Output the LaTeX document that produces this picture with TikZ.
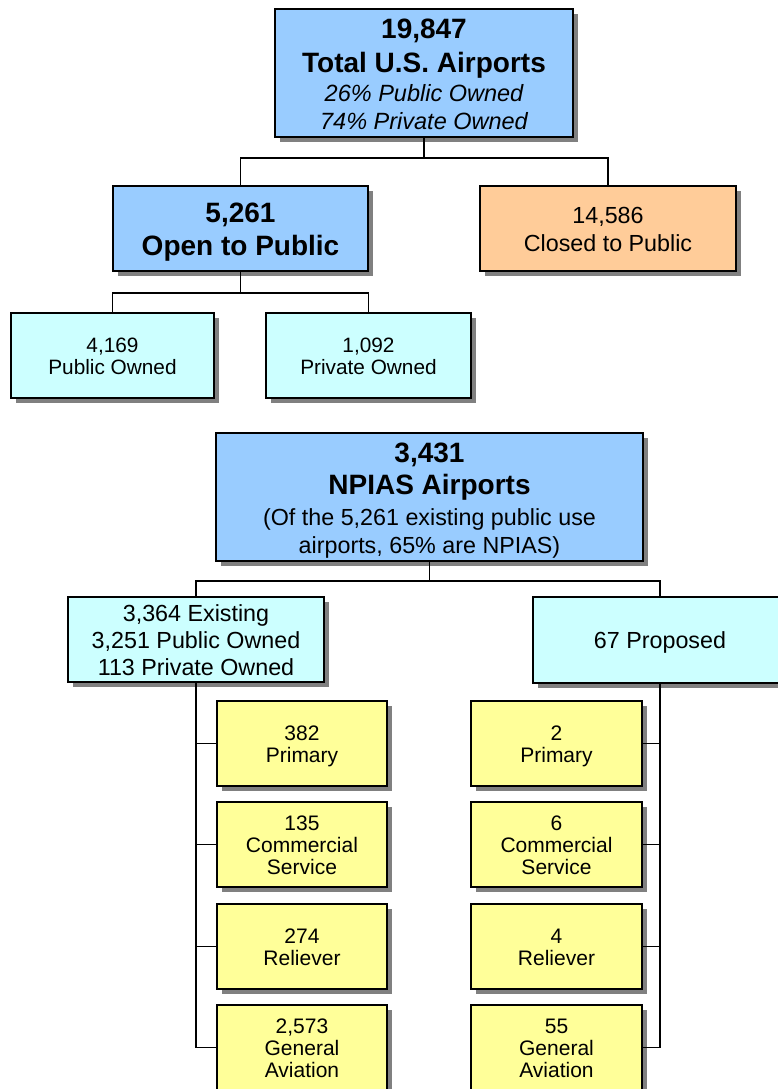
\documentclass[tikz,border=0pt]{standalone}
\usepackage{fontspec}
\setmainfont{Liberation Sans}
\usetikzlibrary{shadows}

\definecolor{boxblue}{HTML}{99CCFF}
\definecolor{boxorange}{HTML}{FFCC99}
\definecolor{boxcyan}{HTML}{CCFFFF}
\definecolor{boxyellow}{HTML}{FFFF99}
\definecolor{shadowgray}{HTML}{808080}

% struts giving each text block the font's ascent and descent
\newcommand\asc{\rule{0pt}{0.96em}}
\newcommand\dsc{\rule[-0.212em]{0pt}{0.212em}}
\newcommand\bigbold{\fontsize{28}{28}\selectfont\bfseries}

\begin{document}
\begin{tikzpicture}[x=1pt, y=-1pt,
  every node/.style={inner sep=0pt, outer sep=0pt, align=center},
  box/.style={draw=black, line width=1.3pt,
    drop shadow={shadow xshift=5pt, shadow yshift=-5pt, fill=shadowgray, opacity=1}},
  bluebox/.style={box, fill=boxblue},
  orangebox/.style={box, fill=boxorange},
  cyanbox/.style={box, fill=boxcyan},
  yellowbox/.style={box, fill=boxyellow, minimum height=85pt,
    font=\fontsize{21}{22}\selectfont},
  leftcol/.style={yellowbox, minimum width=170pt},
  rightcol/.style={yellowbox, minimum width=171pt},
  link/.style={draw=black, line width=1.4pt}
]
\useasboundingbox (0,0) rectangle (778,1089);
\clip (0,0) rectangle (778,1089);

% ---- upper tree ----
\node[bluebox, minimum width=298pt, minimum height=128pt,
      font=\fontsize{23.5}{27.6}\selectfont] (total) at (424,73)
  {{\bigbold\asc 19,847}\\[6.1pt]{\bigbold Total U.S. Airports}\\[1.4pt]%
   {\itshape 26\% Public Owned}\\{\itshape 74\% Private Owned\dsc}};

\node[bluebox, minimum width=255pt, minimum height=85pt,
      font=\fontsize{28}{33.3}\selectfont\bfseries] (open) at (240.5,228.5)
  {\asc 5,261\\Open to Public\dsc};

\node[orangebox, minimum width=256pt, minimum height=85pt,
      font=\fontsize{23.3}{27.7}\selectfont] (closed) at (608,228.5)
  {\asc 14,586\\Closed to Public\dsc};

\node[cyanbox, minimum width=203pt, minimum height=85pt,
      font=\fontsize{20.8}{21.5}\selectfont] (pubown) at (112.5,355.5)
  {\asc 4,169\\Public Owned\dsc};

\node[cyanbox, minimum width=205pt, minimum height=85pt,
      font=\fontsize{20.8}{21.5}\selectfont] (privown) at (368.5,355.5)
  {\asc 1,092\\Private Owned\dsc};

\coordinate (j1) at (424,158);
\coordinate (j2) at (240.5,293);
\draw[link] (total.south) -- (j1);
\draw[link] (open.north) |- (j1) -| (closed.north);
\draw[link] (open.south) -- (j2);
\draw[link] (pubown.north) |- (j2) -| (privown.north);

% ---- NPIAS tree ----
\node[bluebox, minimum width=427pt, minimum height=128pt,
      font=\fontsize{23.3}{27.3}\selectfont] (npias) at (429.5,497)
  {{\bigbold\asc 3,431}\\[5pt]{\bigbold NPIAS Airports}\\[3.7pt]%
   (Of the 5,261 existing public use\\airports, 65\% are NPIAS)\dsc};

\node[cyanbox, minimum width=256pt, minimum height=85pt,
      font=\fontsize{23.3}{27}\selectfont] (exist) at (196,639.5)
  {\asc 3,364 Existing\\3,251 Public Owned\\113 Private Owned\dsc};

\node[cyanbox, minimum width=254pt, minimum height=86pt,
      font=\fontsize{23.3}{27}\selectfont] (prop) at (660,640)
  {\asc 67 Proposed\dsc};

\coordinate (j3) at (429.5,581);
\draw[link] (npias.south) -- (j3);
\draw[link] (exist.north) |- (j3) -| (prop.north);

% existing airports by category
\node[leftcol] (lpri) at (302,743.5)  {\asc 382\\Primary\dsc};
\node[leftcol] (lcom) at (302,844.5)  {\asc 135\\Commercial\\Service\dsc};
\node[leftcol] (lrel) at (302,946.5)  {\asc 274\\Reliever\dsc};
\node[leftcol] (lga)  at (302,1047.5) {\asc 2,573\\General\\Aviation\dsc};

% proposed airports by category
\node[rightcol] (rpri) at (556.5,743.5)  {\asc 2\\Primary\dsc};
\node[rightcol] (rcom) at (556.5,844.5)  {\asc 6\\Commercial\\Service\dsc};
\node[rightcol] (rrel) at (556.5,946.5)  {\asc 4\\Reliever\dsc};
\node[rightcol] (rga)  at (556.5,1047.5) {\asc 55\\General\\Aviation\dsc};

\draw[link] (exist.south) |- (lga.west);
\foreach \n in {lpri,lcom,lrel}
  \draw[link] (\n.west) -- (\n.west -| exist.south);
\draw[link] (prop.south) |- (rga.east);
\foreach \n in {rpri,rcom,rrel}
  \draw[link] (\n.east) -- (\n.east -| prop.south);
\end{tikzpicture}
\end{document}
